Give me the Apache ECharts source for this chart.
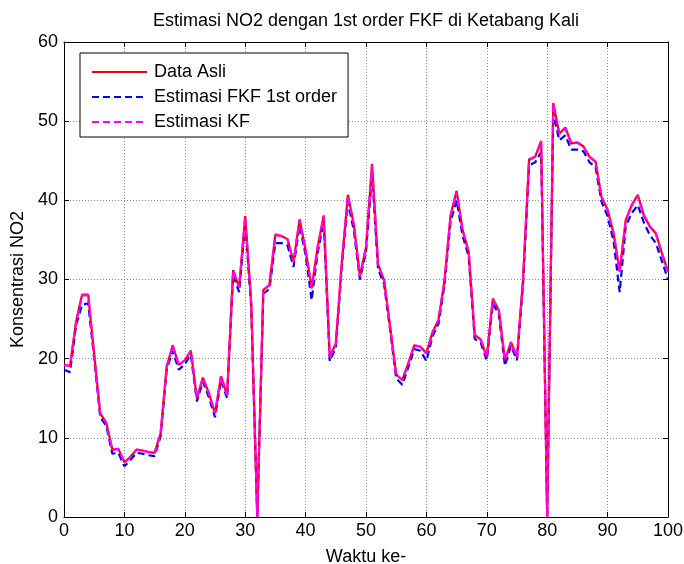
<!DOCTYPE html>
<html>
<head>
<meta charset="utf-8">
<script src="https://cdn.jsdelivr.net/npm/echarts@6/dist/echarts.min.js"></script>
<style>
  html, body { margin: 0; padding: 0; background: #fff; }
  #chart { width: 684px; height: 564px; }
</style>
</head>
<body>
<div id="chart"></div>
<script>
// Time steps 0..100
const waktu = Array.from({ length: 101 }, (_, i) => i);

// Measured NO2 (Data Asli)
const dataAsli = [
  19.2, 19.1, 24.7, 28.1, 28.1, 20.5, 13.1, 11.9, 8.5, 8.6,
  6.9, 7.6, 8.5, 8.4, 8.2, 8.1, 10.6, 19.0, 21.7, 19.2,
  19.8, 21.0, 15.0, 17.6, 15.6, 13.1, 17.8, 15.4, 31.2, 29.0,
  38.0, 27.0, 0.0, 28.7, 29.3, 35.7, 35.5, 35.1, 32.2, 37.6,
  33.7, 28.9, 34.1, 38.1, 20.2, 21.9, 32.2, 40.7, 36.9, 30.4,
  34.1, 44.6, 31.9, 29.9, 24.0, 18.0, 17.3, 19.4, 21.7, 21.5,
  20.7, 23.3, 24.9, 29.9, 38.1, 41.2, 36.2, 33.5, 23.0, 22.4,
  20.2, 27.6, 26.1, 19.8, 22.1, 20.2, 30.0, 45.2, 45.5, 47.5,
  0.0, 52.3, 48.4, 49.2, 47.2, 47.3, 46.8, 45.5, 44.9, 40.4,
  38.8, 35.8, 31.0, 37.5, 39.4, 40.7, 38.1, 36.7, 35.8, 33.3,
  31.0
];

// 1st order FKF estimate
const estimasiFKF = [
  18.6, 18.3, 24.2, 26.8, 27.0, 20.0, 12.6, 11.5, 8.0, 8.1,
  6.4, 7.2, 8.1, 8.0, 7.8, 7.7, 10.2, 18.6, 21.0, 18.6,
  19.3, 20.5, 14.6, 17.1, 15.1, 12.6, 17.3, 15.0, 30.6, 28.4,
  37.2, 26.5, 0.0, 28.2, 28.8, 34.6, 34.6, 34.3, 31.6, 36.8,
  33.1, 27.4, 33.4, 37.3, 19.7, 21.4, 31.6, 39.8, 36.1, 30.0,
  33.5, 43.3, 31.3, 29.4, 23.6, 17.5, 16.7, 18.9, 21.2, 21.0,
  19.7, 22.8, 24.4, 29.3, 37.3, 40.0, 35.5, 32.9, 22.5, 22.0,
  19.8, 27.0, 25.6, 19.1, 21.6, 19.8, 29.4, 44.4, 44.8, 46.1,
  0.0, 51.0, 47.6, 48.2, 46.4, 46.4, 46.2, 44.8, 44.2, 39.8,
  38.0, 34.8, 28.4, 36.7, 38.4, 39.4, 37.2, 35.6, 34.6, 32.3,
  30.0
];

// Standard KF estimate
const estimasiKF = [
  19.2, 19.1, 24.6, 28.0, 28.0, 20.5, 13.1, 11.9, 8.5, 8.6,
  6.9, 7.6, 8.5, 8.4, 8.2, 8.1, 10.6, 19.0, 21.6, 19.2,
  19.8, 21.0, 15.0, 17.6, 15.6, 13.1, 17.8, 15.4, 31.1, 29.0,
  37.9, 27.0, 0.0, 28.7, 29.3, 35.6, 35.5, 35.1, 32.2, 37.5,
  33.7, 28.9, 34.1, 38.0, 20.2, 21.9, 32.2, 40.6, 36.9, 30.4,
  34.1, 44.5, 31.9, 29.9, 24.0, 18.0, 17.3, 19.4, 21.7, 21.5,
  20.7, 23.3, 24.9, 29.9, 38.0, 41.1, 36.2, 33.5, 23.0, 22.4,
  20.2, 27.5, 26.1, 19.8, 22.1, 20.2, 30.0, 45.1, 45.5, 47.4,
  0.0, 52.2, 48.4, 49.1, 47.2, 47.3, 46.8, 45.5, 44.9, 40.4,
  38.8, 35.8, 31.0, 37.4, 39.4, 40.6, 38.1, 36.7, 35.8, 33.3,
  31.0
];

const xTicks = { min: 0, max: 100, interval: 10 };
const yTicks = { min: 0, max: 60, interval: 10 };

const pairs = (ys) => waktu.map((x, i) => [x, ys[i]]);

const FONT = '"Liberation Sans", Arial, sans-serif';
const FS = 18;

const gridLine = { show: true, lineStyle: { color: '#8c8c8c', width: 1, type: [1, 2] } };
const boxLine = { show: true, onZero: false, lineStyle: { color: '#000', width: 1 } };
const tickIn = { show: true, inside: true, length: 5, lineStyle: { color: '#000', width: 1 } };

const chart = echarts.init(document.getElementById('chart'), null, { renderer: 'canvas' });

chart.setOption({
  animation: false,
  backgroundColor: '#fff',
  title: {
    text: 'Estimasi NO2 dengan 1st order FKF di Ketabang Kali',
    left: 366,
    top: 12,
    textAlign: 'center',
    padding: 0,
    textStyle: { fontFamily: FONT, fontSize: FS, fontWeight: 'normal', color: '#000' }
  },
  legend: {
    left: 80,
    top: 53,
    orient: 'vertical',
    padding: [10, 11, 6, 11],
    itemWidth: 55,
    itemHeight: 14,
    itemGap: 7,
    borderColor: '#000',
    borderWidth: 1,
    borderRadius: 0,
    backgroundColor: '#fff',
    itemStyle: { opacity: 0 },
    textStyle: { fontFamily: FONT, fontSize: FS, color: '#000', padding: [0, 0, 0, 2] },
    data: ['Data Asli', 'Estimasi FKF 1st order', 'Estimasi KF']
  },
  grid: { left: 64, right: 16, top: 42, bottom: 47, containLabel: false, outerBoundsMode: 'none' },
  xAxis: [
    {
      type: 'value', ...xTicks,
      name: 'Waktu ke-', nameLocation: 'middle', nameGap: 31,
      nameTextStyle: { fontFamily: FONT, fontSize: FS, color: '#000' },
      axisLine: boxLine, axisTick: tickIn,
      axisLabel: { fontFamily: FONT, fontSize: FS, color: '#000', margin: 5 },
      splitLine: gridLine
    },
    {
      type: 'value', ...xTicks, position: 'top',
      axisLine: boxLine, axisTick: tickIn,
      axisLabel: { show: false }, splitLine: { show: false }
    }
  ],
  yAxis: [
    {
      type: 'value', ...yTicks,
      name: 'Konsentrasi NO2', nameLocation: 'middle', nameGap: 37,
      nameTextStyle: { fontFamily: FONT, fontSize: FS, color: '#000' },
      axisLine: boxLine, axisTick: tickIn,
      axisLabel: { fontFamily: FONT, fontSize: FS, color: '#000', margin: 6 },
      splitLine: gridLine
    },
    {
      type: 'value', ...yTicks, position: 'right',
      axisLine: boxLine, axisTick: tickIn,
      axisLabel: { show: false }, splitLine: { show: false }
    }
  ],
  series: [
    {
      name: 'Data Asli', type: 'line', data: pairs(dataAsli),
      showSymbol: false, symbol: 'none', z: 3,
      lineStyle: { color: '#ff0000', width: 2.2 },
      itemStyle: { color: '#ff0000' }
    },
    {
      name: 'Estimasi FKF 1st order', type: 'line', data: pairs(estimasiFKF),
      showSymbol: false, symbol: 'none', z: 2,
      lineStyle: { color: '#0000ff', width: 2.2, type: [7, 4] },
      itemStyle: { color: '#0000ff' }
    },
    {
      name: 'Estimasi KF', type: 'line', data: pairs(estimasiKF),
      showSymbol: false, symbol: 'none', z: 4,
      lineStyle: { color: '#ff00ff', width: 2.2, type: [7, 4] },
      itemStyle: { color: '#ff00ff' }
    }
  ]
});
</script>
</body>
</html>
